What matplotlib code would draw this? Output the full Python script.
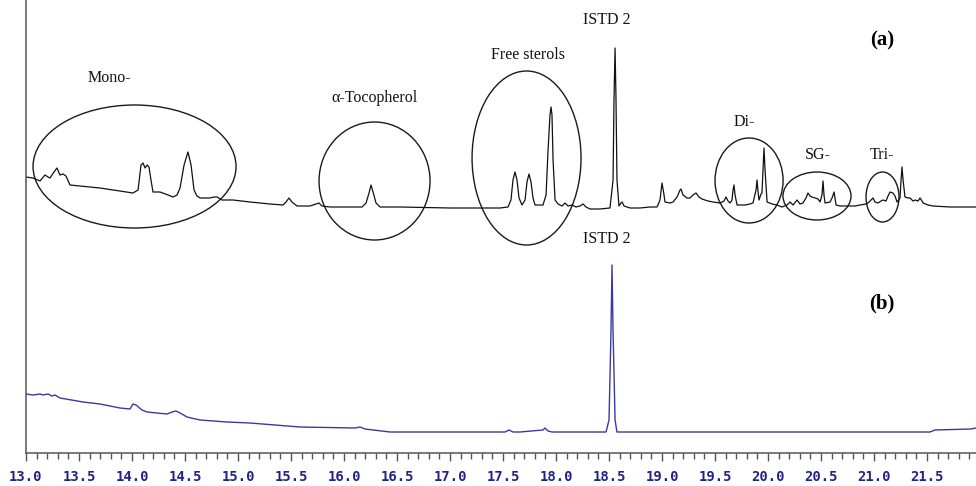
import numpy as np
import matplotlib.pyplot as plt
from matplotlib.patches import Ellipse

# retention time (min) and signal (arbitrary units) - trace (a), sample
rt_a = [13.000, 13.066, 13.132, 13.179, 13.208, 13.226, 13.264, 13.292, 13.321, 13.349,
        13.377, 13.415, 13.509, 13.698, 13.887, 14.009, 14.057, 14.085, 14.104, 14.123,
        14.142, 14.160, 14.179, 14.198, 14.264, 14.340, 14.387, 14.425, 14.453, 14.491,
        14.528, 14.557, 14.585, 14.613, 14.642, 14.736, 14.774, 14.802, 14.849, 14.953,
        15.113, 15.302, 15.425, 15.453, 15.481, 15.509, 15.557, 15.679, 15.736, 15.764,
        15.792, 15.868, 16.057, 16.170, 16.208, 16.236, 16.255, 16.274, 16.302, 16.340,
        16.528, 17.000, 17.472, 17.547, 17.575, 17.594, 17.613, 17.632, 17.651, 17.679,
        17.708, 17.726, 17.745, 17.764, 17.783, 17.802, 17.877, 17.906, 17.925, 17.943,
        17.953, 17.962, 17.972, 17.991, 18.019, 18.057, 18.085, 18.113, 18.151, 18.189,
        18.226, 18.255, 18.283, 18.321, 18.415, 18.509, 18.538, 18.547, 18.557, 18.566,
        18.575, 18.594, 18.613, 18.623, 18.642, 18.698, 18.792, 18.887, 18.953, 18.981,
        19.000, 19.019, 19.028, 19.075, 19.104, 19.142, 19.170, 19.179, 19.198, 19.236,
        19.264, 19.292, 19.321, 19.349, 19.377, 19.434, 19.481, 19.547, 19.585, 19.604,
        19.623, 19.642, 19.660, 19.670, 19.679, 19.689, 19.708, 19.783, 19.830, 19.858,
        19.887, 19.896, 19.906, 19.915, 19.934, 19.943, 19.953, 19.962, 19.972, 19.991,
        20.038, 20.085, 20.132, 20.179, 20.208, 20.236, 20.274, 20.302, 20.330, 20.358,
        20.377, 20.396, 20.415, 20.443, 20.472, 20.491, 20.509, 20.519, 20.528, 20.538,
        20.585, 20.604, 20.623, 20.642, 20.679, 20.745, 20.821, 20.868, 20.925, 20.943,
        20.972, 20.991, 21.009, 21.038, 21.066, 21.085, 21.113, 21.132, 21.151, 21.179,
        21.198, 21.217, 21.245, 21.255, 21.264, 21.274, 21.292, 21.321, 21.340, 21.368,
        21.387, 21.415, 21.434, 21.453, 21.462, 21.509, 21.557, 21.717, 21.962]
sig_a = [30, 29, 26, 32, 30, 29, 35, 39, 32, 33,
         31, 22, 21, 19, 16, 14, 17, 42, 44, 39,
         42, 40, 27, 15, 15, 12, 10, 12, 19, 42,
         55, 42, 17, 11, 9, 9, 10, 10, 7, 7,
         5, 3, 2, 5, 9, 5, 1, 1, 3, 4,
         1, 0, 0, 0, 4, 14, 22, 15, 4, 0,
         0, -1, -1, 0, 7, 27, 35, 27, 9, 2,
         7, 25, 33, 25, 9, 2, 2, 12, 57, 92,
         100, 92, 47, 7, 3, 1, 4, 1, 2, 0,
         1, 3, 0, -2, -2, -1, 27, 107, 159, 107,
         27, 1, 4, 5, 1, -1, -1, 0, 0, 7,
         24, 12, 5, 4, 5, 10, 17, 18, 12, 9,
         9, 12, 14, 10, 8, 6, 5, 4, 6, 10,
         6, 4, 7, 17, 22, 12, 2, 2, 3, 4,
         17, 27, 15, 7, 13, 14, 37, 59, 37, 5,
         3, 2, 0, 2, 5, 2, 7, 3, 4, 9,
         14, 11, 10, 9, 8, 5, 12, 26, 12, 4,
         5, 9, 15, 2, 1, 1, 1, 2, 3, 4,
         7, 9, 5, 4, 6, 7, 6, 11, 15, 14,
         11, 5, 9, 27, 40, 27, 10, 9, 9, 6,
         7, 6, 9, 6, 4, 2, 1, 0, 0]

# trace (b), blank
rt_b = [13.000, 13.066, 13.132, 13.160, 13.208, 13.245, 13.274, 13.321, 13.538, 13.698,
        13.887, 13.981, 14.009, 14.038, 14.094, 14.142, 14.330, 14.377, 14.415, 14.453,
        14.519, 14.642, 14.896, 15.113, 15.585, 16.104, 16.151, 16.198, 16.434, 17.358,
        17.519, 17.557, 17.594, 17.660, 17.877, 17.896, 17.925, 17.962, 18.472, 18.500,
        18.519, 18.528, 18.538, 18.557, 18.575, 21.528, 21.575, 21.915, 21.962]
sig_b = [38, 37, 38, 37, 38, 36, 37, 34, 30, 28,
         24, 23, 28, 27, 22, 20, 18, 20, 21, 19,
         15, 12, 10, 9, 5, 4, 5, 3, 0, 0,
         0, 2, 0, 0, 2, 4, 1, 0, 0, 12,
         102, 167, 102, 12, 0, 0, 2, 3, 4]

offset_a = 246
offset_b = 21

fig = plt.figure(figsize=(9.76, 4.86), dpi=100)
ax = fig.add_axes([26 / 976, 33 / 486, 950 / 976, 453 / 486])

ax.plot(rt_a, np.array(sig_a) + offset_a, color='#111111', lw=0.9)
ax.plot(rt_b, np.array(sig_b) + offset_b, color='#3a3a9e', lw=1.0)

ax.set_xlim(13.0, 21.962)
ax.set_ylim(0, 453)

serif = 'Liberation Serif'
lab = dict(fontsize=11.5, family=serif, ha='center', va='center', color='#111111')
ax.text(13.783, 375, 'Mono-', **lab)
ax.text(16.292, 355, 'α-Tocopherol', **lab)
ax.text(17.736, 398, 'Free sterols', **lab)
ax.text(18.481, 433, 'ISTD 2', **lab)
ax.text(19.774, 331, 'Di-', **lab)
ax.text(20.472, 298, 'SG-', **lab)
ax.text(21.075, 298, 'Tri-', **lab)
ax.text(18.481, 214, 'ISTD 2', **lab)
ax.text(21.075, 413, '(a)', fontsize=15, family=serif, weight='bold', ha='center', va='center')
ax.text(21.075, 150, '(b)', fontsize=15, family=serif, weight='bold', ha='center', va='center')

# circled groups (centre rt, centre y, width in min, height)
for cx, cy, w, h in [(14.024, 286.5, 1.915, 123), (16.288, 272, 1.047, 118),
                     (17.722, 295, 1.028, 174), (19.821, 272.5, 0.642, 85),
                     (20.462, 257, 0.642, 48), (21.080, 256, 0.311, 50)]:
    ax.add_patch(Ellipse((cx, cy), w, h, fill=False, ec='#1a1a1a', lw=1.0))

for s in ['top', 'right']:
    ax.spines[s].set_visible(False)
ax.spines['left'].set_color('#555555')
ax.spines['bottom'].set_color('#555555')
ax.spines['left'].set_linewidth(1.1)
ax.spines['bottom'].set_linewidth(1.1)

ax.set_yticks([])
ax.set_xticks(np.arange(13.0, 21.51, 0.5))
ax.set_xticks(np.arange(13.0, 21.96, 0.1), minor=True)
ax.set_xticklabels(['%.1f' % v for v in np.arange(13.0, 21.51, 0.5)])
ax.tick_params(axis='x', which='major', length=6, width=1, color='#555555', pad=6.5,
               labelsize=10, labelcolor='#22228a')
ax.tick_params(axis='x', which='minor', length=4, width=1, color='#555555')
for t in ax.get_xticklabels():
    t.set_family('DejaVu Sans Mono')
    t.set_weight('bold')

fig.savefig('out.png', dpi=100)
